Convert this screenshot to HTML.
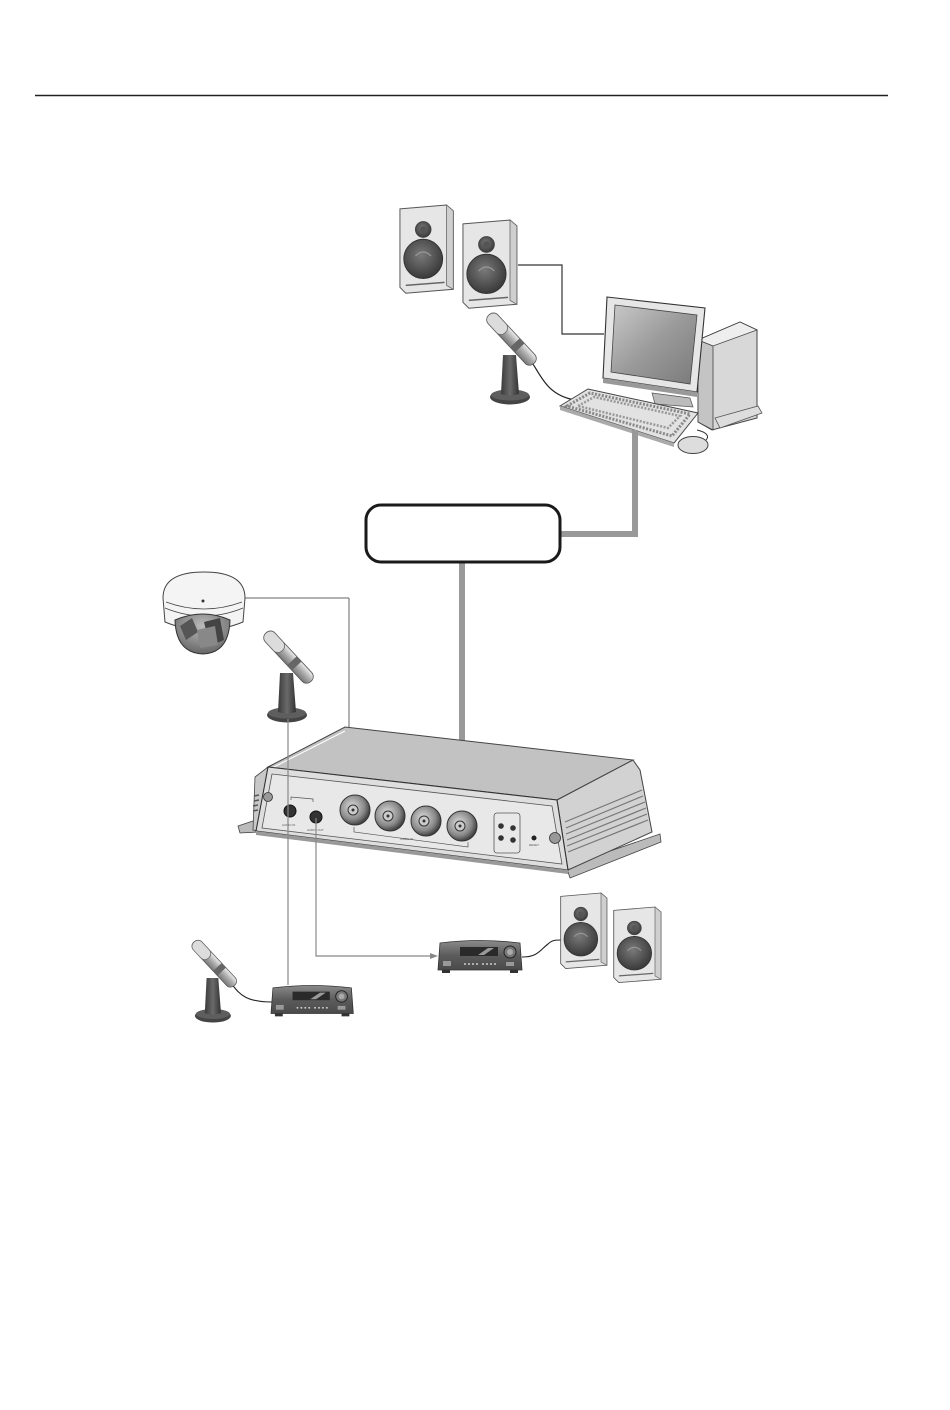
<!DOCTYPE html>
<html><head><meta charset="utf-8">
<style>
html,body{margin:0;padding:0;background:#fff;}
svg{display:block;}
text{font-family:"Liberation Sans",sans-serif;}
</style></head>
<body>
<svg width="950" height="1410" viewBox="0 0 950 1410" xmlns="http://www.w3.org/2000/svg">
<defs>
  <linearGradient id="gScreen" x1="0" y1="0" x2="1" y2="1">
    <stop offset="0" stop-color="#c9c9c9"/><stop offset="0.5" stop-color="#9a9a9a"/><stop offset="1" stop-color="#7a7a7a"/>
  </linearGradient>
  <radialGradient id="gWoof" cx="0.45" cy="0.4" r="0.6">
    <stop offset="0" stop-color="#7a7a7a"/><stop offset="1" stop-color="#3a3a3a"/>
  </radialGradient>
  <linearGradient id="gAmp" x1="0" y1="0" x2="0" y2="1">
    <stop offset="0" stop-color="#8a8a8a"/><stop offset="0.5" stop-color="#5c5c5c"/><stop offset="1" stop-color="#4a4a4a"/>
  </linearGradient>
  <linearGradient id="gStand" x1="0" y1="0" x2="1" y2="0">
    <stop offset="0" stop-color="#3a3a3a"/><stop offset="0.5" stop-color="#6a6a6a"/><stop offset="1" stop-color="#333"/>
  </linearGradient>
  <linearGradient id="gHead" x1="0" y1="0" x2="0" y2="1">
    <stop offset="0" stop-color="#eee"/><stop offset="0.5" stop-color="#aaa"/><stop offset="1" stop-color="#777"/>
  </linearGradient>
  <radialGradient id="gBnc" cx="0.4" cy="0.4" r="0.6">
    <stop offset="0" stop-color="#ddd"/><stop offset="0.7" stop-color="#888"/><stop offset="1" stop-color="#444"/>
  </radialGradient>
  <radialGradient id="gDome" cx="0.5" cy="0.3" r="0.7">
    <stop offset="0" stop-color="#bbb"/><stop offset="1" stop-color="#666"/>
  </radialGradient>

  <!-- speaker, local 0..58 x 0..90 -->
  <g id="spk">
    <path d="M2,4 L50,0 L57,6 L57,86 L8,90 L2,84 Z" fill="#e6e6e6" stroke="#555" stroke-width="1"/>
    <path d="M50,0 L57,6 L57,86 L50,82 Z" fill="#cfcfcf" stroke="#666" stroke-width="0.8"/>
    <circle cx="26" cy="25" r="8" fill="url(#gWoof)" stroke="#444" stroke-width="1"/>
    <circle cx="26" cy="25" r="3.5" fill="#555"/>
    <circle cx="26" cy="55" r="20" fill="url(#gWoof)" stroke="#333" stroke-width="1"/>
    <path d="M18,52 Q26,44 34,52" fill="none" stroke="#999" stroke-width="1.2"/>
    <line x1="8" y1="82" x2="48" y2="79" stroke="#666" stroke-width="1.5"/>
  </g>

  <!-- mic -->
  <g id="mic">
    <ellipse cx="21" cy="82" rx="20" ry="7.5" fill="#444"/>
    <ellipse cx="21" cy="80" rx="19" ry="5.5" fill="#5e5e5e"/>
    <path d="M14,40 L12,79 Q21,82 30,79 L27,40 Z" fill="url(#gStand)"/>
    <g transform="rotate(47)">
      <rect x="0" y="-6.5" width="66" height="13" rx="6" fill="url(#gHead)" stroke="#555" stroke-width="0.8"/>
      <rect x="0" y="-6.5" width="24" height="13" rx="6" fill="#dcdcdc" stroke="#666" stroke-width="0.8"/>
      <rect x="38" y="-6.5" width="7" height="13" fill="#666"/>
    </g>
  </g>

  <!-- amplifier 0..84 x 0..34 -->
  <g id="amp">
    <path d="M2,3 Q42,-2 82,3 L84,30 L0,30 Z" fill="url(#gAmp)" stroke="#333" stroke-width="0.8"/>
    <rect x="22" y="7" width="38" height="9" fill="#2a2a2a"/>
    <path d="M40,15 L50,8 L56,8 L46,15 Z" fill="#999"/>
    <circle cx="72" cy="12" r="6" fill="#777" stroke="#222" stroke-width="1"/>
    <circle cx="72" cy="12" r="3" fill="#aaa"/>
    <g fill="#ccc"><circle cx="27" cy="24" r="1"/><circle cx="31" cy="24" r="1"/><circle cx="35" cy="24" r="1"/><circle cx="39" cy="24" r="1"/><circle cx="45" cy="24" r="1"/><circle cx="49" cy="24" r="1"/><circle cx="53" cy="24" r="1"/><circle cx="57" cy="24" r="1"/></g>
    <rect x="5" y="21" width="8" height="5" fill="#999"/>
    <rect x="68" y="22" width="8" height="4" fill="#999"/>
    <rect x="4" y="30" width="8" height="3" fill="#333"/>
    <rect x="72" y="30" width="8" height="3" fill="#333"/>
  </g>
</defs>

<!-- header rule -->
<line x1="35" y1="95.5" x2="888" y2="95.5" stroke="#222" stroke-width="1.4"/>

<!-- ================= TOP: PC SIDE ================= -->
<polyline points="518,265 562,265 562,334 604,334" fill="none" stroke="#333" stroke-width="1.2"/>
<use href="#spk" transform="translate(398,205) scale(0.97,0.98)"/>
<use href="#spk" transform="translate(461,220) scale(0.98,0.98)"/>

<!-- PC tower -->
<path d="M698,340 L740,322 L757,330 L757,418 L712,430 L698,422 Z" fill="#d8d8d8" stroke="#444" stroke-width="1"/>
<path d="M698,340 L740,322 L757,330 L713,346 Z" fill="#eee" stroke="#444" stroke-width="0.8"/>
<path d="M698,340 L713,346 L713,430 L698,422 Z" fill="#c4c4c4" stroke="#444" stroke-width="0.8"/>
<path d="M715,418 L758,406 L762,413 L720,428 Z" fill="#ddd" stroke="#555" stroke-width="0.8"/>
<!-- monitor -->
<path d="M607,297 L705,308 L697,392 L603,378 Z" fill="#e6e6e6" stroke="#333" stroke-width="1.1"/>
<path d="M615,305 L697,315 L690,384 L611,372 Z" fill="url(#gScreen)" stroke="#444" stroke-width="0.8"/>
<path d="M603,378 L697,392 L697,397 L603,383 Z" fill="#999"/>
<path d="M652,393 L690,398 L693,407 L655,404 Z" fill="#bbb" stroke="#555" stroke-width="0.7"/>
<!-- mic cable -->
<path d="M530,360 C540,372 545,395 575,400" fill="none" stroke="#222" stroke-width="1.2"/>
<!-- keyboard -->
<path d="M560,406 L588,389 L698,413 L674,443 Z" fill="#e2e2e2" stroke="#444" stroke-width="1"/>
<path d="M567,406 L590,393 L690,414 L672,436 Z" fill="none" stroke="#888" stroke-width="3" stroke-dasharray="2,1.5"/>
<path d="M578,406 L594,397 L680,416 L668,428 Z" fill="none" stroke="#999" stroke-width="2.5" stroke-dasharray="2,1.5"/>
<path d="M560,406 L674,443 L674,447 L560,410 Z" fill="#aaa"/>
<!-- mouse -->
<path d="M697,430 C706,432 710,436 706,440" fill="none" stroke="#333" stroke-width="1"/>
<ellipse cx="693" cy="445" rx="15" ry="8.5" fill="#ddd" stroke="#444" stroke-width="1"/>
<!-- top mic -->
<use href="#mic" transform="translate(489,315)"/>

<!-- ================= NETWORK ================= -->
<polyline points="635,430 635,534 561,534" fill="none" stroke="#999" stroke-width="6"/>
<line x1="462" y1="563" x2="462" y2="741" stroke="#999" stroke-width="6"/>
<rect x="366" y="505" width="194" height="57" rx="15" ry="15" fill="#fff" stroke="#1a1a1a" stroke-width="3"/>

<!-- ================= DOME CAMERA ================= -->
<line x1="245" y1="598" x2="349" y2="598" stroke="#666" stroke-width="1"/>
<line x1="349" y1="598" x2="349" y2="806" stroke="#666" stroke-width="1"/>
<path d="M163,598 Q163,572 204,572 Q245,572 245,598 L243,622 Q204,638 165,622 Z" fill="#f4f4f4" stroke="#444" stroke-width="1"/>
<path d="M166,602 Q204,616 242,602" fill="none" stroke="#444" stroke-width="0.8"/>
<path d="M165,608 Q204,624 243,608" fill="none" stroke="#444" stroke-width="0.8"/>
<circle cx="203" cy="601" r="1.5" fill="#333"/>
<path d="M175,620 Q176,653 203,654 Q229,653 230,620 Q203,608 175,620 Z" fill="url(#gDome)" stroke="#333" stroke-width="1"/>
<path d="M180,626 L192,618 L198,632 L186,640 Z" fill="#555"/>
<path d="M204,622 L220,618 L224,640 L210,646 Z" fill="#444"/>
<path d="M197,630 L215,626 L218,645 L200,648 Z" fill="#888"/>

<!-- mid-left mic -->
<use href="#mic" transform="translate(266,633)"/>

<!-- ================= ENCODER DEVICE ================= -->
<path d="M238,826 L256,820 L258,832 L240,833 Z" fill="#bbb" stroke="#444" stroke-width="0.8"/>
<path d="M566,866 L660,834 L661,842 L570,878 Z" fill="#bbb" stroke="#444" stroke-width="0.8"/>
<path d="M268,767 L345,727 L633,760 L557,800 Z" fill="#c2c2c2" stroke="#444" stroke-width="1"/>
<path d="M272,768 L345,731" stroke="#fff" stroke-width="1"/>
<path d="M557,800 L633,760 L640,770 L652,832 L568,870 Z" fill="#d2d2d2" stroke="#444" stroke-width="1"/>
<g stroke="#777" stroke-width="1.2">
  <line x1="565" y1="822" x2="642" y2="790"/>
  <line x1="566" y1="828" x2="643" y2="796"/>
  <line x1="566" y1="834" x2="645" y2="802"/>
  <line x1="567" y1="840" x2="646" y2="808"/>
  <line x1="567" y1="846" x2="647" y2="814"/>
  <line x1="568" y1="852" x2="648" y2="820"/>
</g>
<path d="M255,777 L268,767 L258,831 L253,830 Z" fill="#c8c8c8" stroke="#444" stroke-width="0.8"/>
<g stroke="#555" stroke-width="1.5"><line x1="254" y1="796" x2="259" y2="795"/><line x1="254" y1="801" x2="259" y2="800"/><line x1="253" y1="806" x2="258" y2="805"/><line x1="253" y1="811" x2="258" y2="810"/></g>
<path d="M268,767 L557,800 L568,870 L256,831 Z" fill="#dedede" stroke="#333" stroke-width="1.1"/>
<path d="M272,774 L552,806 L562,864 L262,828 Z" fill="#e8e8e8" stroke="#555" stroke-width="0.8"/>
<path d="M256,831 L568,870 L568,874 L256,835 Z" fill="#999"/>
<circle cx="268" cy="797" r="4.5" fill="#999" stroke="#333" stroke-width="0.8"/>
<circle cx="555" cy="838" r="5.5" fill="#999" stroke="#333" stroke-width="0.8"/>
<path d="M291,800 L291,797 L313,799 L313,802" fill="none" stroke="#555" stroke-width="0.7"/>
<circle cx="290" cy="811" r="6" fill="#333" stroke="#111" stroke-width="1"/>
<circle cx="316" cy="817" r="6" fill="#333" stroke="#111" stroke-width="1"/>
<text x="282" y="826" font-size="3" fill="#555">AUDIO IN</text>
<text x="307" y="831" font-size="3" fill="#555">AUDIO OUT</text>
<g stroke="#333" stroke-width="1">
  <circle cx="355" cy="810" r="15" fill="url(#gBnc)"/><circle cx="353" cy="810" r="5" fill="#ccc"/>
  <circle cx="390" cy="816" r="15" fill="url(#gBnc)"/><circle cx="388" cy="816" r="5" fill="#ccc"/>
  <circle cx="426" cy="821" r="15" fill="url(#gBnc)"/><circle cx="424" cy="821" r="5" fill="#ccc"/>
  <circle cx="462" cy="826" r="15" fill="url(#gBnc)"/><circle cx="460" cy="826" r="5" fill="#ccc"/>
</g>
<circle cx="353" cy="810" r="1.5" fill="#333"/><circle cx="388" cy="816" r="1.5" fill="#333"/><circle cx="424" cy="821" r="1.5" fill="#333"/><circle cx="460" cy="826" r="1.5" fill="#333"/>
<path d="M354,827 L354,832 L468,847 L468,842" fill="none" stroke="#555" stroke-width="0.7"/>
<text x="390" y="829" font-size="3" fill="#555">CH1</text>
<text x="400" y="840" font-size="3" fill="#555">VIDEO IN</text>
<rect x="494" y="813" width="26" height="40" rx="3" fill="none" stroke="#555" stroke-width="0.8"/>
<circle cx="501" cy="826" r="2.8" fill="#333"/><circle cx="513" cy="828" r="2.8" fill="#333"/>
<circle cx="501" cy="838" r="2.8" fill="#333"/><circle cx="513" cy="840" r="2.8" fill="#333"/>
<circle cx="534" cy="838" r="2.5" fill="#222"/>
<text x="529" y="846" font-size="3" fill="#555">RESET</text>

<!-- ================= BOTTOM CONNECTIONS ================= -->
<line x1="288" y1="719" x2="288" y2="985" stroke="#888" stroke-width="1.2"/>
<polyline points="316,818 316,956 432,956" fill="none" stroke="#888" stroke-width="1.2"/>
<path d="M438,956 L430,953 L430,959 Z" fill="#888"/>

<use href="#amp" transform="translate(438,940)"/>
<path d="M522,957 C538,957 540,950 548,944 C552,940 556,940 561,940" fill="none" stroke="#222" stroke-width="1.1"/>
<use href="#spk" transform="translate(559,893) scale(0.84,0.84)"/>
<use href="#spk" transform="translate(612,907) scale(0.86,0.84)"/>

<path d="M228,980 C238,990 240,1002 272,1002" fill="none" stroke="#222" stroke-width="1.1"/>
<use href="#mic" transform="translate(194,942) scale(0.9,0.9)"/>
<use href="#amp" transform="translate(271,985) scale(0.98,0.95)"/>

</svg>
</body></html>
